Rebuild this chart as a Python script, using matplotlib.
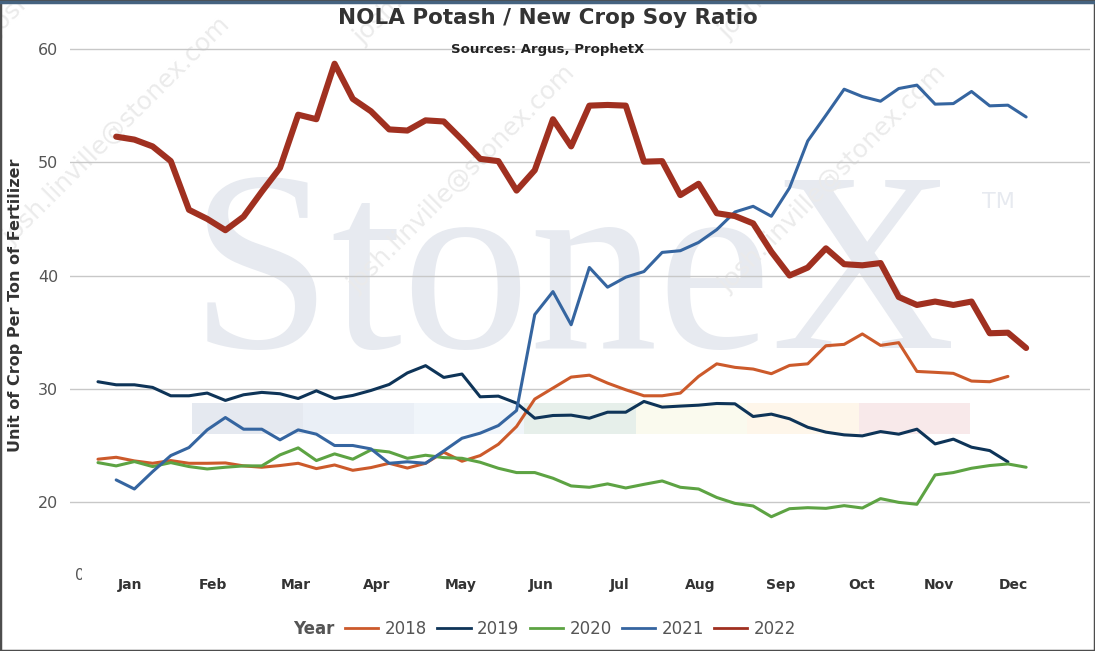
import matplotlib
matplotlib.use("Agg")
import matplotlib.pyplot as plt
import numpy as np
from matplotlib.patches import Rectangle
from matplotlib.lines import Line2D
from matplotlib.transforms import Bbox

# week index on x (0 = first week of the year)
months = ["Jan", "Feb", "Mar", "Apr", "May", "Jun", "Jul", "Aug", "Sep", "Oct", "Nov", "Dec"]
month_pos = [1.76, 6.32, 10.88, 15.33, 19.95, 24.34, 28.68, 33.08, 37.53, 41.98, 46.2, 50.3]

y2018 = [23.78, 23.95, 23.63, 23.42, 23.66, 23.42, 23.42, 23.45, 23.19, 23.07,
         23.22, 23.42, 22.95, 23.27, 22.8, 23.04, 23.42, 23.0, 23.42, 24.4,
         23.6, 24.1, 25.1, 26.67, 29.09, 30.06, 31.03, 31.2, 30.5, 29.91,
         29.38, 29.38, 29.62, 31.09, 32.2, 31.89, 31.74, 31.33, 32.06, 32.2,
         33.8, 33.92, 34.84, 33.83, 34.07, 31.53, 31.45, 31.36, 30.68, 30.62, 31.09]
y2019 = [30.62, 30.35, 30.35, 30.12, 29.38, 29.38, 29.62, 28.97, 29.47, 29.68,
         29.56, 29.14, 29.82, 29.14, 29.41, 29.85, 30.38, 31.4, 32.04, 31.0,
         31.3, 29.29, 29.35, 28.73, 27.4, 27.64, 27.67, 27.4, 27.93, 27.93,
         28.88, 28.38, 28.47, 28.55, 28.7, 28.67, 27.55, 27.76, 27.35, 26.6,
         26.17, 25.93, 25.84, 26.22, 25.99, 26.43, 25.13, 25.55, 24.84, 24.54, 23.54]
y2020 = [23.48, 23.19, 23.57, 23.13, 23.48, 23.13, 22.92, 23.07, 23.19, 23.19,
         24.16, 24.78, 23.66, 24.25, 23.78, 24.6, 24.42, 23.86, 24.13, 23.92,
         23.86, 23.51, 22.98, 22.6, 22.6, 22.1, 21.42, 21.3, 21.6, 21.24,
         21.56, 21.86, 21.3, 21.15, 20.4, 19.88, 19.65, 18.7, 19.41, 19.5,
         19.44, 19.68, 19.47, 20.3, 19.97, 19.8, 22.39, 22.6, 22.98, 23.22, 23.36, 23.07]
y2021 = [21.95, 21.15, 22.68, 24.1, 24.81, 26.37, 27.46, 26.43, 26.43,
         25.49, 26.37, 25.99, 24.99, 24.99, 24.69, 23.42, 23.55, 23.42, 24.51,
         25.63, 26.08, 26.75, 28.08, 36.55, 38.58, 35.65, 40.71, 38.97, 39.85,
         40.35, 42.04, 42.19, 42.92, 44.05, 45.61, 46.11, 45.23, 47.74, 51.88,
         54.15, 56.45, 55.8, 55.39, 56.51, 56.81, 55.13, 55.18, 56.25, 54.98, 55.04, 54.0]
y2022 = [52.26, 52.0, 51.4, 50.1, 45.8, 45.0, 44.0, 45.2, 47.4, 49.5,
         54.2, 53.8, 58.7, 55.6, 54.5, 52.9, 52.8, 53.7, 53.6, 52.0,
         50.3, 50.1, 47.5, 49.3, 53.8, 51.4, 55.0, 55.06, 55.0, 50.05,
         50.1, 47.1, 48.1, 45.5, 45.25, 44.6, 42.1, 40.0, 40.7, 42.4,
         41.0, 40.9, 41.1, 38.1, 37.4, 37.7, 37.4, 37.7, 34.9, 34.95, 33.6]

series = [
    ("2018", np.arange(0, len(y2018)), y2018, "#CC5A2B", 2.2),
    ("2019", np.arange(0, len(y2019)), y2019, "#0E3458", 2.2),
    ("2020", np.arange(0, len(y2020)), y2020, "#5DA343", 2.2),
    ("2021", np.arange(1, len(y2021) + 1), y2021, "#3565A0", 2.2),
    ("2022", np.arange(1, len(y2022) + 1), y2022, "#A03020", 4.4),
]

W, H = 1095, 651
AX_L, AX_R, AX_T, AX_B = 70, 1090, 40, 560

def fx(x):
    return x / W

def fy(y):
    return 1 - y / H

fig = plt.figure(figsize=(W / 100, H / 100), dpi=100)
ax = fig.add_axes([fx(AX_L), fy(AX_B), (AX_R - AX_L) / W, (AX_B - AX_T) / H])
ax.set_xlim(-1.538, 54.51)
ax.set_ylim(14.88, 60.795)

# watermark: StoneX logo, colour strip, email
ax.text(fx(190), fy(348), "StoneX", transform=fig.transFigure, family="Liberation Serif",
        fontsize=184, color="#E7EAF0", ha="left", va="baseline", zorder=0.2)
ax.text(fx(982), fy(208), "TM", transform=fig.transFigure, fontsize=16, color="#E7EAF0",
        ha="left", va="baseline", zorder=0.2)
strip_x = [192, 303, 414, 524, 636, 747, 859, 970]
strip_c = ["#E5E9F0", "#EAEFF6", "#F0F5FA", "#E6EFEA", "#FAFAEE", "#FEF6EA", "#F8E9EA"]
for i, c in enumerate(strip_c):
    ax.add_patch(Rectangle((fx(strip_x[i]), fy(434)), (strip_x[i + 1] - strip_x[i]) / W, 31 / H,
                           transform=fig.transFigure, color=c, lw=0, zorder=0.2))
for sx, sy in [(-2, 36), (363, 45), (728, 40), (12, 245), (357, 293), (728, 293)]:
    ax.text(fx(sx), fy(sy), "josh.linville@stonex.com", transform=fig.transFigure,
            fontsize=18, color="#EBEBEB", rotation=45, rotation_mode="anchor",
            ha="left", va="baseline", zorder=0.3, clip_on=False)

ax.set_axisbelow(True)
ax.yaxis.grid(True, color="#C8C8C8", lw=1)
for s in ax.spines.values():
    s.set_visible(False)

handles = []
for name, x, y, c, lw in series:
    ax.plot(x, y, color=c, lw=lw, solid_joinstyle="round", solid_capstyle="round", zorder=2)
    handles.append(Line2D([], [], color=c, lw=2))

ax.set_yticks([20, 30, 40, 50, 60])
ax.set_xticks(month_pos, months)
ax.tick_params(axis="both", length=0)
ax.tick_params(axis="y", labelsize=11.5, labelcolor="#555555", pad=8.5)
ax.tick_params(axis="x", labelsize=10, labelcolor="#333333", pad=13)
for t in ax.get_xticklabels():
    t.set_fontweight("bold")

# stray clipped zero under the axis
z = fig.text(fx(80), fy(575), "0", fontsize=11, color="#555555", ha="center", va="center")
z.set_clip_box(Bbox.from_extents(70, 0, 82, H))
z.set_clip_on(True)

fig.text(0.5, fy(18), "NOLA Potash / New Crop Soy Ratio", fontsize=15.5, fontweight="bold",
         color="#333333", ha="center", va="center")
fig.text(0.5, fy(50), "Sources: Argus, ProphetX", fontsize=9.5, fontweight="bold",
         color="#222222", ha="center", va="center")
fig.text(fx(16), fy(305), "Unit of Crop Per Ton of Fertilizer", fontsize=11.5, fontweight="bold",
         color="#333333", rotation=90, ha="center", va="center")

fig.text(fx(293), fy(629), "Year", fontsize=12, fontweight="bold", color="#555555", va="center")
fig.legend(handles, [s[0] for s in series], loc="center left", bbox_to_anchor=(fx(345), fy(629)),
           ncol=5, frameon=False, fontsize=12, handlelength=2.0, handletextpad=0.4,
           columnspacing=0.6, borderpad=0, borderaxespad=0, labelcolor="#555555")

# outer frame
fig.patches.append(Rectangle((0, 0), 1, 1, transform=fig.transFigure, fill=False,
                             edgecolor="#4D4D4D", lw=2.5))
fig.lines.append(Line2D([0, 1], [fy(1.5), fy(1.5)], transform=fig.transFigure,
                        color="#456380", lw=2.5))

fig.savefig("out.png", dpi=100)
